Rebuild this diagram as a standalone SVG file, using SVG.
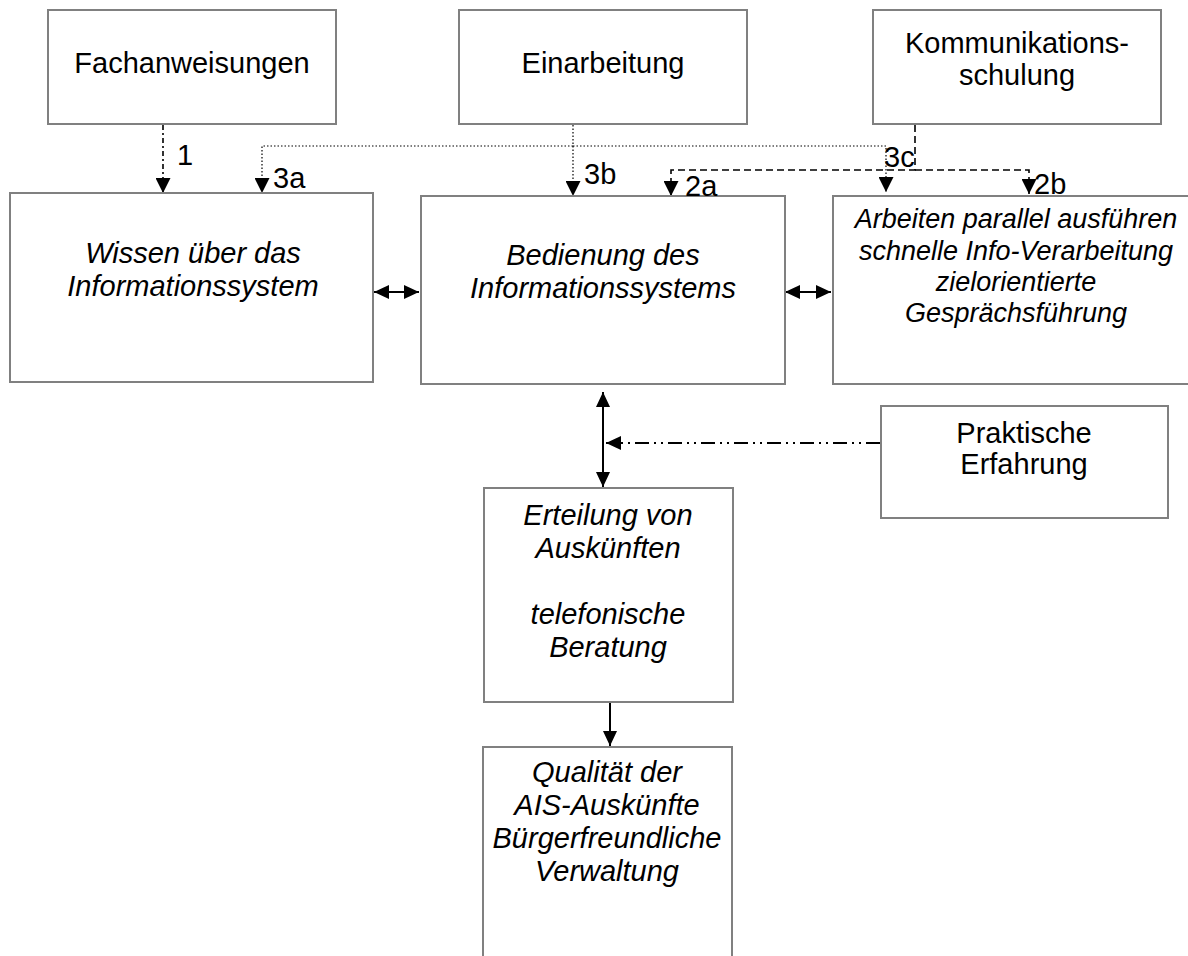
<svg xmlns="http://www.w3.org/2000/svg" width="1188" height="956" viewBox="0 0 1188 956">
<style>
.box{fill:#fff;stroke:#808080;stroke-width:2}
.t{font-family:"Liberation Sans",Arial,sans-serif;font-size:29px;fill:#000;text-anchor:middle}
.i{font-style:italic}
.lbl{font-family:"Liberation Sans",Arial,sans-serif;font-size:29px;fill:#000}
.ln{fill:none;stroke:#000}
.dot{stroke-width:1.2;stroke-dasharray:1.5 2}
.dash{stroke-width:1.6;stroke-dasharray:7 4}
.dash1{stroke-width:1.6;stroke-dasharray:5 3 2 3}
.solid{stroke-width:2}
.dd{stroke-width:1.8;stroke-dasharray:14 5 2 5 2 5}
</style>
<defs>
<marker id="ah" viewBox="0 0 10 10" refX="10" refY="5" markerWidth="15" markerHeight="15" markerUnits="userSpaceOnUse" orient="auto" preserveAspectRatio="none">
<path d="M0,0 L10,5 L0,10 Z" fill="#000"/>
</marker>
<marker id="ahb" viewBox="0 0 10 10" refX="10" refY="5" markerWidth="15" markerHeight="14" markerUnits="userSpaceOnUse" orient="auto-start-reverse" preserveAspectRatio="none">
<path d="M0,0 L10,5 L0,10 Z" fill="#000"/>
</marker>
</defs>

<g id="connectors">
<path class="ln dash1" d="M163,125 V193" marker-end="url(#ah)"/>
<path class="ln dot" d="M573,125 V196" marker-end="url(#ah)"/>
<path class="ln dot" d="M573,146 H262 V193" marker-end="url(#ah)"/>
<path class="ln dot" d="M573,146 H886 V192" marker-end="url(#ah)"/>
<path class="ln dash" d="M915,125 V170 H671 V196" marker-end="url(#ah)"/>
<path class="ln dash" d="M915,170 H1029 V194" marker-end="url(#ah)"/>
<path class="ln solid" d="M374,292 H419" marker-start="url(#ahb)" marker-end="url(#ahb)"/>
<path class="ln solid" d="M785,292 H831" marker-start="url(#ahb)" marker-end="url(#ahb)"/>
<path class="ln solid" d="M603,392 V487" marker-start="url(#ahb)" marker-end="url(#ahb)"/>
<path class="ln dd" d="M880,443 H606" marker-end="url(#ahb)"/>
<path class="ln solid" d="M610,703 V746" marker-end="url(#ahb)"/>
</g>

<g id="n-fach">
<rect class="box" x="48" y="10" width="288" height="114"/>
<text class="t" x="192" y="73">Fachanweisungen</text>
</g>
<g id="n-einarb">
<rect class="box" x="459" y="10" width="288" height="114"/>
<text class="t" x="603" y="73">Einarbeitung</text>
</g>
<g id="n-komm">
<rect class="box" x="873" y="10" width="288" height="114"/>
<text class="t" x="1017" y="53">Kommunikations-</text>
<text class="t" x="1017" y="85">schulung</text>
</g>
<g id="n-wissen">
<rect class="box" x="10" y="193" width="363" height="189"/>
<text class="t i" x="193" y="263">Wissen über das</text>
<text class="t i" x="193" y="296">Informationssystem</text>
</g>
<g id="n-bedienung">
<rect class="box" x="421" y="196" width="364" height="188"/>
<text class="t i" x="603" y="265">Bedienung des</text>
<text class="t i" x="603" y="298">Informationssystems</text>
</g>
<g id="n-arbeiten">
<rect class="box" x="833" y="196" width="366" height="188"/>
<text class="t i" x="1016" y="228" style="font-size:27px">Arbeiten parallel ausführen</text>
<text class="t i" x="1016" y="260" style="font-size:27px">schnelle Info-Verarbeitung</text>
<text class="t i" x="1016" y="291" style="font-size:27px">zielorientierte</text>
<text class="t i" x="1016" y="322" style="font-size:27px">Gesprächsführung</text>
</g>
<g id="n-praktisch">
<rect class="box" x="881" y="406" width="287" height="112"/>
<text class="t" x="1024" y="443">Praktische</text>
<text class="t" x="1024" y="474">Erfahrung</text>
</g>
<g id="n-erteilung">
<rect class="box" x="484" y="488" width="249" height="214"/>
<text class="t i" x="608" y="525">Erteilung von</text>
<text class="t i" x="608" y="558">Auskünften</text>
<text class="t i" x="608" y="624">telefonische</text>
<text class="t i" x="608" y="657">Beratung</text>
</g>
<g id="n-qualitaet">
<rect class="box" x="483" y="747" width="249" height="230"/>
<text class="t i" x="607" y="782">Qualität der</text>
<text class="t i" x="607" y="815">AIS-Auskünfte</text>
<text class="t i" x="607" y="848">Bürgerfreundliche</text>
<text class="t i" x="607" y="881">Verwaltung</text>
</g>

<g id="labels">
<text class="lbl" x="177" y="165">1</text>
<text class="lbl" x="273" y="188">3a</text>
<text class="lbl" x="584" y="184">3b</text>
<text class="lbl" x="685" y="196">2a</text>
<text class="lbl" x="884" y="167">3c</text>
<text class="lbl" x="1034" y="194">2b</text>
</g>
</svg>
